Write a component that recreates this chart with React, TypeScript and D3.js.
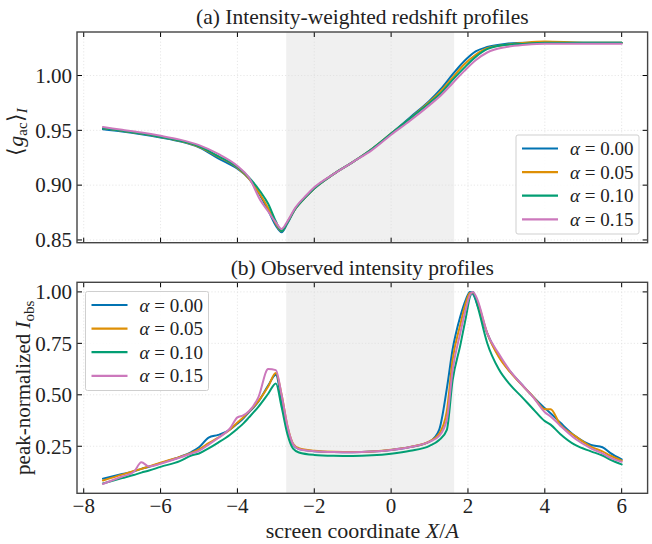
import React from 'react';
import * as d3 from 'd3';

// ---------- data ----------
const ALPHAS = ['0.00', '0.05', '0.10', '0.15'];
const COLORS = ['#0173b2', '#de8f05', '#029e73', '#cc78bc'];

const X_TOP = [-7.5, -7.0, -6.5, -6.0, -5.5, -5.0, -4.5, -4.0, -3.7, -3.4, -3.2, -3.0, -2.85, -2.7, -2.5, -2.2, -2.0, -1.5, -1.0, -0.5, 0.0, 0.5, 1.0, 1.3, 1.6, 1.9, 2.2, 2.5, 3.0, 3.5, 4.0, 5.0, 6.0];
const G_000 = [0.951, 0.949, 0.9465, 0.9435, 0.940, 0.9345, 0.9245, 0.915, 0.906, 0.890, 0.877, 0.863, 0.857, 0.865, 0.878, 0.890, 0.897, 0.910, 0.921, 0.933, 0.947, 0.962, 0.977, 0.988, 1.001, 1.013, 1.022, 1.026, 1.029, 1.030, 1.030, 1.030, 1.030];
const G_005 = [0.952, 0.9495, 0.947, 0.944, 0.9405, 0.935, 0.926, 0.916, 0.906, 0.891, 0.879, 0.865, 0.858, 0.866, 0.878, 0.890, 0.897, 0.910, 0.921, 0.933, 0.947, 0.961, 0.976, 0.986, 0.998, 1.010, 1.019, 1.025, 1.028, 1.030, 1.031, 1.030, 1.030];
const G_010 = [0.952, 0.9495, 0.947, 0.944, 0.9405, 0.9355, 0.9265, 0.9165, 0.907, 0.894, 0.883, 0.867, 0.858, 0.866, 0.878, 0.890, 0.897, 0.910, 0.921, 0.933, 0.947, 0.961, 0.975, 0.984, 0.996, 1.007, 1.017, 1.024, 1.028, 1.029, 1.030, 1.030, 1.030];
const G_015 = [0.953, 0.9505, 0.948, 0.945, 0.9415, 0.9365, 0.9285, 0.9175, 0.907, 0.886, 0.876, 0.866, 0.860, 0.867, 0.879, 0.891, 0.898, 0.910, 0.921, 0.932, 0.946, 0.959, 0.973, 0.982, 0.993, 1.004, 1.014, 1.021, 1.026, 1.028, 1.029, 1.029, 1.029];

const X_BOT = [-7.5, -7.0, -6.7, -6.5, -6.3, -6.0, -5.5, -5.2, -5.0, -4.75, -4.5, -4.2, -4.0, -3.85, -3.7, -3.45, -3.2, -3.0, -2.85, -2.7, -2.55, -2.4, -2.0, -1.5, -1.0, -0.5, 0.0, 0.5, 1.0, 1.25, 1.45, 1.6, 1.8, 1.95, 2.05, 2.13, 2.25, 2.5, 2.8, 3.1, 3.4, 3.7, 4.0, 4.15, 4.4, 4.8, 5.2, 5.5, 5.7, 6.0];
const I_000 = [0.092, 0.115, 0.128, 0.140, 0.150, 0.168, 0.198, 0.222, 0.245, 0.292, 0.305, 0.330, 0.360, 0.385, 0.415, 0.468, 0.545, 0.598, 0.470, 0.335, 0.257, 0.236, 0.226, 0.222, 0.221, 0.224, 0.232, 0.246, 0.272, 0.330, 0.530, 0.720, 0.880, 0.965, 1.000, 0.990, 0.935, 0.800, 0.690, 0.612, 0.550, 0.490, 0.435, 0.410, 0.365, 0.298, 0.256, 0.245, 0.218, 0.186];
const I_005 = [0.084, 0.112, 0.130, 0.140, 0.152, 0.170, 0.198, 0.218, 0.235, 0.265, 0.292, 0.330, 0.365, 0.390, 0.418, 0.470, 0.540, 0.606, 0.500, 0.350, 0.262, 0.240, 0.228, 0.223, 0.222, 0.225, 0.233, 0.247, 0.274, 0.310, 0.420, 0.670, 0.840, 0.950, 0.995, 0.995, 0.950, 0.800, 0.685, 0.610, 0.548, 0.490, 0.430, 0.430, 0.355, 0.298, 0.248, 0.225, 0.205, 0.180];
const I_010 = [0.069, 0.095, 0.110, 0.122, 0.132, 0.150, 0.178, 0.205, 0.215, 0.240, 0.268, 0.305, 0.335, 0.360, 0.390, 0.443, 0.505, 0.555, 0.440, 0.310, 0.238, 0.220, 0.208, 0.204, 0.203, 0.206, 0.214, 0.228, 0.252, 0.280, 0.330, 0.570, 0.740, 0.880, 0.975, 1.000, 0.930, 0.752, 0.625, 0.548, 0.490, 0.430, 0.372, 0.355, 0.310, 0.255, 0.225, 0.205, 0.185, 0.162];
const I_015 = [0.067, 0.103, 0.125, 0.172, 0.152, 0.165, 0.195, 0.215, 0.228, 0.258, 0.290, 0.335, 0.390, 0.400, 0.420, 0.490, 0.625, 0.620, 0.500, 0.350, 0.260, 0.237, 0.226, 0.222, 0.221, 0.224, 0.232, 0.246, 0.272, 0.300, 0.380, 0.620, 0.800, 0.920, 0.985, 1.000, 0.960, 0.800, 0.700, 0.615, 0.550, 0.488, 0.415, 0.395, 0.350, 0.285, 0.240, 0.215, 0.195, 0.175];

const X_TICKS = [-8, -6, -4, -2, 0, 2, 4, 6];
const TOP_Y_TICKS = [0.85, 0.9, 0.95, 1.0];
const BOT_Y_TICKS = [0.25, 0.5, 0.75, 1.0];
const SHADE = [-2.73, 1.64];

const TOP_SERIES = [G_000, G_005, G_010, G_015];
const BOT_SERIES = [I_000, I_005, I_010, I_015];

// ---------- layout ----------
const W = 652, H = 544;
const L = 77, R = 647.6;
const TOP = { t: 32, b: 242.7 };
const BOT = { t: 282.3, b: 493.3 };
const FONT = '"Liberation Serif", "Times New Roman", serif';
const TICK_FS = 21;
const fmtMinus = (v: number) => (v < 0 ? '\u2212' + Math.abs(v) : String(v));

const x = d3.scaleLinear().domain([-8.175, 6.675]).range([L, R]);
const yTop = d3.scaleLinear().domain([0.8475, 1.0397]).range([TOP.b, TOP.t]);
const yBot = d3.scaleLinear().domain([0.0214, 1.0466]).range([BOT.b, BOT.t]);

function Panel({ y, rect, yTicks, xs, series, showXLabels, legendPos }: any) {
  const line = d3.line<number>().x((_, i) => x(xs[i])).y((d) => y(d)).curve(d3.curveMonotoneX);
  const tl = 5;
  return (
    <g>
      <rect x={x(SHADE[0])} y={rect.t} width={x(SHADE[1]) - x(SHADE[0])} height={rect.b - rect.t} fill="#f0f0f0" />
      {X_TICKS.map((t) => (
        <line key={'gx' + t} x1={x(t)} x2={x(t)} y1={rect.t} y2={rect.b} stroke="#dcdcdc" strokeWidth={0.7} strokeDasharray="1.2,2" />
      ))}
      {yTicks.map((t: number) => (
        <line key={'gy' + t} x1={L} x2={R} y1={y(t)} y2={y(t)} stroke="#dcdcdc" strokeWidth={0.7} strokeDasharray="1.2,2" />
      ))}
      {series.map((s: number[], i: number) => (
        <path key={'s' + i} d={line(s) || ''} fill="none" stroke={COLORS[i]} strokeWidth={2} strokeLinejoin="round" strokeLinecap="round" />
      ))}
      {X_TICKS.map((t) => (
        <g key={'tx' + t}>
          <line x1={x(t)} x2={x(t)} y1={rect.b} y2={rect.b - tl} stroke="#000" strokeWidth={1} />
          <line x1={x(t)} x2={x(t)} y1={rect.t} y2={rect.t + tl} stroke="#000" strokeWidth={1} />
          {showXLabels && (
            <text x={x(t)} y={513} textAnchor="middle" fontSize={TICK_FS} fontFamily={FONT} fill="#222">{fmtMinus(t)}</text>
          )}
        </g>
      ))}
      {yTicks.map((t: number) => (
        <g key={'ty' + t}>
          <line x1={L} x2={L + tl} y1={y(t)} y2={y(t)} stroke="#000" strokeWidth={1} />
          <line x1={R} x2={R - tl} y1={y(t)} y2={y(t)} stroke="#000" strokeWidth={1} />
          <text x={72} y={y(t)} dy="0.35em" textAnchor="end" fontSize={TICK_FS} fontFamily={FONT} fill="#222">{t.toFixed(2)}</text>
        </g>
      ))}
      <rect x={L} y={rect.t} width={R - L} height={rect.b - rect.t} fill="none" stroke="#444" strokeWidth={1.4} />
      <g transform={`translate(${legendPos[0]},${legendPos[1]})`}>
        <rect x={0} y={0} width={123} height={99} fill="#fff" fillOpacity={0.85} stroke="#cfcfcf" strokeWidth={1} rx={2} />
        {ALPHAS.map((a, i) => (
          <g key={'lg' + a} transform={`translate(0,${13.5 + i * 23.6})`}>
            <line x1={6} x2={42} y1={0} y2={0} stroke={COLORS[i]} strokeWidth={2.2} />
            <text x={54} y={0} dy="0.35em" fontSize={19} fontFamily={FONT} fill="#222">
              <tspan fontStyle="italic">α</tspan> = {a}
            </text>
          </g>
        ))}
      </g>
    </g>
  );
}

export default function App() {
  return (
    <svg width={W} height={H} style={{ position: 'absolute', left: 0, top: 0, background: '#fff' }} fontFamily={FONT}>
      <rect x={0} y={0} width={W} height={H} fill="#fff" />
      <text x={(L + R) / 2} y={24} textAnchor="middle" fontSize={21.5} fill="#222">(a) Intensity-weighted redshift profiles</text>
      <text x={(L + R) / 2} y={275} textAnchor="middle" fontSize={21.5} fill="#222">(b) Observed intensity profiles</text>
      <Panel y={yTop} rect={TOP} yTicks={TOP_Y_TICKS} xs={X_TOP} series={TOP_SERIES} showXLabels={false} legendPos={[516, 135]} />
      <Panel y={yBot} rect={BOT} yTicks={BOT_Y_TICKS} xs={X_BOT} series={BOT_SERIES} showXLabels={true} legendPos={[85.5, 291.5]} />
      <text transform={`translate(23,132) rotate(-90)`} textAnchor="middle" fontSize={22} fill="#222">
        <tspan>⟨</tspan><tspan fontStyle="italic">g</tspan><tspan fontSize={15} dy={4}>ac</tspan><tspan dy={-4}>⟩</tspan><tspan fontStyle="italic" fontSize={15} dy={4}>I</tspan>
      </text>
      <text transform={`translate(30,${(BOT.t + BOT.b) / 2}) rotate(-90)`} textAnchor="middle" fontSize={21} fill="#222">
        <tspan>peak-normalized </tspan><tspan fontStyle="italic">I</tspan><tspan fontSize={15} dy={4}>obs</tspan>
      </text>
      <text x={(L + R) / 2} y={538} textAnchor="middle" fontSize={22} fill="#222">
        screen coordinate <tspan fontStyle="italic">X</tspan>/<tspan fontStyle="italic">A</tspan>
      </text>
    </svg>
  );
}
